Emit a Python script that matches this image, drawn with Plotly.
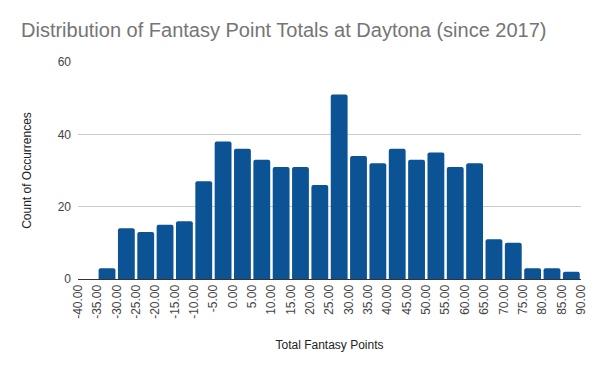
import plotly.graph_objects as go

bin_edges = [-40, -35, -30, -25, -20, -15, -10, -5, 0, 5, 10, 15, 20, 25, 30,
             35, 40, 45, 50, 55, 60, 65, 70, 75, 80, 85, 90]
counts = [0, 3, 14, 13, 15, 16, 27, 38, 36, 33, 31, 31, 26, 51, 34,
          32, 36, 33, 35, 31, 32, 11, 10, 3, 3, 2]
tick_labels = ["-40.00", "-35.00", "-30.00", "-25.00", "-20.00", "-15.00", "-10.00",
               "-5.00", "0.00", "5.00", "10.00", "15.00", "20.00", "25.00", "30.00",
               "35.00", "40.00", "45.00", "50.00", "55.00", "60.00", "65.00", "70.00",
               "75.00", "80.00", "85.00", "90.00"]

bin_size = bin_edges[1] - bin_edges[0]
centers = [e + bin_size / 2 for e in bin_edges[:-1]]

# page body has an 8px default margin; size the figure to compensate
W, H = 592, 363

fig = go.Figure(go.Bar(
    x=centers, y=counts, width=bin_size * 0.87,
    marker=dict(color="#0b5394", line=dict(width=0), cornerradius=2),
    hoverinfo="x+y",
))

fig.update_layout(
    width=W, height=H,
    margin=dict(l=70, r=19, t=54, b=92),
    paper_bgcolor="white", plot_bgcolor="white",
    showlegend=False,
    title=dict(text="Distribution of Fantasy Point Totals at Daytona (since 2017)",
               x=13 / W, xanchor="left", y=1 - 22 / H, yanchor="middle",
               font=dict(family="Liberation Sans, Arial, sans-serif", size=20, color="#757575")),
    font=dict(family="Liberation Sans, Arial, sans-serif", size=12, color="#222222"),
    xaxis=dict(
        range=[bin_edges[0], bin_edges[-1]],
        tickmode="array", tickvals=bin_edges, ticktext=tick_labels,
        tickangle=-90, tickfont=dict(size=12, color="#444444"),
        showgrid=False, zeroline=False,
        showline=True, linecolor="#333333", linewidth=1,
        ticks="", ticklen=0, automargin=False,
        title=dict(text="Total Fantasy Points", font=dict(size=12, color="#222222"), standoff=22),
        fixedrange=True,
    ),
    yaxis=dict(
        range=[0, 60], tickvals=[0, 20, 40, 60],
        tickfont=dict(size=12, color="#444444"),
        showgrid=True, gridcolor="#cccccc", gridwidth=1,
        zeroline=False, ticks="", ticklabelstandoff=6, automargin=False,
        title=dict(text="Count of Occurrences", font=dict(size=12, color="#222222"), standoff=23),
        fixedrange=True,
    ),
)

fig.write_html("out.html")
